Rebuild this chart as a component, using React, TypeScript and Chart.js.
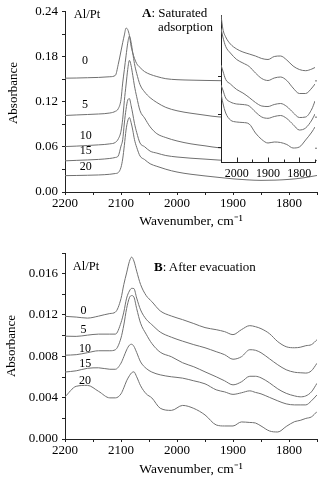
import React, { useEffect, useRef } from "react";
import { Chart, registerables } from "chart.js";

Chart.register(...registerables);

const FONT = "'Liberation Serif', 'Times New Roman', serif";
const LINE = "#707070";
const AXIS = "#222";

// ---------- Panel A: saturated adsorption ----------
const WN_A = [2200, 2180, 2160, 2140, 2120, 2110, 2105, 2100, 2097, 2094, 2091, 2088, 2085, 2082, 2079, 2076, 2072, 2066, 2058, 2048, 2036, 2020, 2000, 1975, 1950, 1925, 1900, 1875, 1850, 1825, 1800, 1775, 1750];
const A_0 = [0.1516, 0.1518, 0.1522, 0.1526, 0.1535, 0.1554, 0.1697, 0.1878, 0.1988, 0.2092, 0.2183, 0.2163, 0.2085, 0.1943, 0.1852, 0.1781, 0.171, 0.1658, 0.1604, 0.1567, 0.1538, 0.1509, 0.1496, 0.149, 0.1486, 0.1483, 0.148, 0.148, 0.148, 0.148, 0.148, 0.148, 0.148];
const A_5 = [0.1019, 0.1026, 0.1032, 0.1039, 0.1052, 0.1075, 0.1108, 0.1231, 0.1451, 0.1632, 0.1813, 0.1982, 0.2076, 0.1995, 0.1852, 0.171, 0.158, 0.1429, 0.1334, 0.1256, 0.1192, 0.1127, 0.1082, 0.1049, 0.1023, 0.1, 0.0997, 0.0997, 0.0997, 0.0997, 0.0997, 0.0997, 0.0997];
const A_10 = [0.0605, 0.0611, 0.0619, 0.0628, 0.0641, 0.0661, 0.0705, 0.081, 0.097, 0.1218, 0.1425, 0.1632, 0.1753, 0.1684, 0.1554, 0.1414, 0.1269, 0.1082, 0.0987, 0.0868, 0.0777, 0.0725, 0.068, 0.0641, 0.0615, 0.0589, 0.0583, 0.0583, 0.0583, 0.0583, 0.0583, 0.0583, 0.0583];
const A_15 = [0.0415, 0.0421, 0.0427, 0.0434, 0.0447, 0.046, 0.0479, 0.0612, 0.0695, 0.0919, 0.1101, 0.1224, 0.1244, 0.1153, 0.104, 0.0915, 0.0794, 0.0652, 0.0604, 0.0544, 0.0518, 0.0486, 0.0466, 0.045, 0.0438, 0.0425, 0.0418, 0.0418, 0.0418, 0.0418, 0.0418, 0.0418, 0.0418];
const A_20 = [0.0218, 0.022, 0.0223, 0.0227, 0.0236, 0.0246, 0.0258, 0.0329, 0.044, 0.0622, 0.0825, 0.0946, 0.0991, 0.0926, 0.0824, 0.07, 0.0596, 0.0479, 0.0433, 0.0376, 0.0342, 0.0303, 0.0266, 0.0236, 0.0214, 0.0194, 0.0175, 0.0162, 0.0155, 0.0158, 0.0168, 0.0188, 0.022];

// ---------- Inset of panel A (magnified, arbitrary units) ----------
const WN_IN = [2050, 2044, 2035, 2020, 2000, 1980, 1960, 1940, 1920, 1900, 1880, 1860, 1840, 1820, 1800, 1780, 1760, 1750];
const IN_0 = [0.145, 0.131, 0.123, 0.116, 0.111, 0.108, 0.106, 0.104, 0.1015, 0.1005, 0.1035, 0.104, 0.1, 0.094, 0.0905, 0.0893, 0.091, 0.0925];
const IN_5 = [0.1317, 0.123, 0.1135, 0.107, 0.1005, 0.097, 0.0935, 0.087, 0.0815, 0.0795, 0.082, 0.083, 0.0795, 0.072, 0.0665, 0.0665, 0.072, 0.076];
const IN_10 = [0.095, 0.089, 0.0805, 0.076, 0.0705, 0.067, 0.0625, 0.0575, 0.054, 0.0535, 0.0555, 0.0565, 0.0535, 0.0475, 0.0425, 0.043, 0.051, 0.059];
const IN_15 = [0.075, 0.07, 0.062, 0.058, 0.056, 0.0555, 0.054, 0.048, 0.043, 0.0417, 0.0435, 0.0445, 0.0415, 0.0355, 0.03, 0.032, 0.04, 0.046];
const IN_20 = [0.0667, 0.057, 0.047, 0.04, 0.038, 0.0375, 0.036, 0.027, 0.0205, 0.017, 0.018, 0.0175, 0.0155, 0.012, 0.013, 0.02, 0.028, 0.033];
const IN_Y_TICKS = [0.013, 0.046, 0.084];

// ---------- Panel B: after evacuation ----------
const WN_B = [2200, 2180, 2160, 2140, 2120, 2110, 2100, 2095, 2090, 2085, 2081, 2077, 2072, 2065, 2055, 2045, 2030, 2010, 1990, 1970, 1950, 1930, 1915, 1900, 1885, 1870, 1860, 1850, 1835, 1820, 1805, 1790, 1780, 1770, 1760, 1750];
const B_0 = [0.01187, 0.0118, 0.0117, 0.01189, 0.01214, 0.01228, 0.01359, 0.01495, 0.01607, 0.01718, 0.0176, 0.01723, 0.01624, 0.01495, 0.01388, 0.0133, 0.0124, 0.0119, 0.01155, 0.01117, 0.01078, 0.01058, 0.01039, 0.0101, 0.01058, 0.01097, 0.01087, 0.01068, 0.0102, 0.00942, 0.00893, 0.00883, 0.00888, 0.00903, 0.00913, 0.00961];
const B_5 = [0.00995, 0.00993, 0.01005, 0.01015, 0.01015, 0.01015, 0.01126, 0.01228, 0.01363, 0.01432, 0.01458, 0.01456, 0.01364, 0.01249, 0.01159, 0.01107, 0.01035, 0.00985, 0.00947, 0.00913, 0.00883, 0.00845, 0.00816, 0.00772, 0.00796, 0.00864, 0.00859, 0.00835, 0.00777, 0.00718, 0.0067, 0.00646, 0.00641, 0.00638, 0.0066, 0.00733];
const B_10 = [0.00811, 0.00816, 0.00835, 0.00854, 0.00854, 0.00864, 0.00978, 0.01103, 0.01262, 0.01367, 0.01388, 0.01374, 0.01262, 0.0112, 0.01014, 0.00925, 0.0084, 0.00796, 0.00738, 0.00699, 0.0065, 0.00602, 0.00563, 0.00524, 0.00553, 0.00607, 0.00607, 0.00592, 0.00544, 0.00485, 0.00442, 0.00417, 0.00408, 0.00417, 0.00456, 0.00539];
const B_15 = [0.00648, 0.0066, 0.00684, 0.00689, 0.00675, 0.00675, 0.00734, 0.00796, 0.00862, 0.00908, 0.00917, 0.00897, 0.00837, 0.00746, 0.00683, 0.00648, 0.00621, 0.00602, 0.00589, 0.00563, 0.00534, 0.00476, 0.00456, 0.00432, 0.00447, 0.00466, 0.00451, 0.00437, 0.00403, 0.00369, 0.0034, 0.0033, 0.0033, 0.0033, 0.00369, 0.00427];
const B_20 = [0.00408, 0.0051, 0.00519, 0.00461, 0.00398, 0.00398, 0.00437, 0.00495, 0.00563, 0.00612, 0.00641, 0.0065, 0.00602, 0.00515, 0.00437, 0.00398, 0.00298, 0.00277, 0.00325, 0.00296, 0.00233, 0.00136, 0.00126, 0.00126, 0.00165, 0.0016, 0.00155, 0.00126, 0.00078, 0.00068, 0.00121, 0.00168, 0.0018, 0.00199, 0.00214, 0.00265];

const AL_PT = ["0", "5", "10", "15", "20"];
const X_TITLE = "Wavenumber, cm\u207B\u00B9";
const Y_TITLE = "Absorbance";

function toPoints(wn: number[], vals: number[]) {
  return wn.map((w, i) => ({ x: w, y: vals[i] }));
}

function makeDatasets(wn: number[], series: number[][]) {
  return series.map((s) => ({
    data: toPoints(wn, s),
    borderColor: LINE,
    borderWidth: 1,
    pointRadius: 0,
    fill: false,
    cubicInterpolationMode: "monotone" as const,
  }));
}

function mainConfig(opts: {
  wn: number[];
  series: number[][];
  yMax: number;
  yStep: number;
  labelEvery: number;
  decimals: number;
  padTop: number;
  xHeight: number;
  xTickPad: number;
  xTitlePad: number;
  showYTitle: boolean;
}): any {
  return {
    type: "line",
    data: { datasets: makeDatasets(opts.wn, opts.series) },
    options: {
      animation: false,
      responsive: false,
      maintainAspectRatio: false,
      events: [],
      layout: { padding: { top: opts.padTop, right: 2, left: 0, bottom: 0 } },
      plugins: { legend: { display: false }, tooltip: { enabled: false } },
      scales: {
        x: {
          type: "linear",
          reverse: true,
          min: 1750,
          max: 2200,
          ticks: {
            stepSize: 50,
            autoSkip: false,
            maxRotation: 0,
            minRotation: 0,
            padding: opts.xTickPad,
            color: "#000",
            font: { family: FONT, size: 13 },
            callback: (v: number) => (Math.round(v) % 100 === 0 ? String(Math.round(v)) : ""),
          },
          grid: { display: true, drawOnChartArea: false, drawTicks: true, tickLength: 3, color: AXIS },
          border: { display: true, color: AXIS, width: 1 },
          title: {
            display: true,
            text: X_TITLE,
            color: "#000",
            font: { family: FONT, size: 13.5 },
            padding: { top: 0, bottom: opts.xTitlePad },
          },
          afterFit: (s: any) => {
            s.height = opts.xHeight;
          },
        },
        y: {
          min: 0,
          max: opts.yMax,
          ticks: {
            stepSize: opts.yStep,
            autoSkip: false,
            padding: 4,
            color: "#000",
            font: { family: FONT, size: 13 },
            callback: (v: number) =>
              Math.round(v / opts.yStep) % opts.labelEvery === 0 ? v.toFixed(opts.decimals) : "",
          },
          grid: { display: true, drawOnChartArea: false, drawTicks: true, tickLength: 3, color: AXIS },
          border: { display: true, color: AXIS, width: 1 },
          title: {
            display: opts.showYTitle,
            text: Y_TITLE,
            color: "#000",
            font: { family: FONT, size: 13 },
            padding: { top: 4, bottom: 0 },
          },
          afterFit: (s: any) => {
            s.width = 65;
          },
        },
      },
    },
  };
}

const insetPlugin = {
  id: "insetDeco",
  beforeDraw(chart: any) {
    const { ctx, chartArea } = chart;
    ctx.save();
    ctx.fillStyle = "#fff";
    ctx.fillRect(chartArea.left, chartArea.top, chartArea.right - chartArea.left, chartArea.bottom - chartArea.top);
    ctx.restore();
  },
  afterDraw(chart: any) {
    const { ctx, chartArea, scales } = chart;
    ctx.save();
    ctx.strokeStyle = AXIS;
    ctx.lineWidth = 1;
    ctx.beginPath();
    for (const t of scales.x.ticks) {
      const px = Math.round(scales.x.getPixelForValue(t.value)) + 0.5;
      const len = Math.round(t.value) % 100 === 0 ? 5 : 3;
      ctx.moveTo(px, chartArea.bottom);
      ctx.lineTo(px, chartArea.bottom - len);
    }
    for (const v of IN_Y_TICKS) {
      const py = Math.round(scales.y.getPixelForValue(v)) + 0.5;
      ctx.moveTo(chartArea.left, py);
      ctx.lineTo(chartArea.left - 3, py);
    }
    ctx.stroke();
    ctx.restore();
  },
};

function insetConfig(): any {
  return {
    type: "line",
    data: { datasets: makeDatasets(WN_IN, [IN_0, IN_5, IN_10, IN_15, IN_20]) },
    options: {
      animation: false,
      responsive: false,
      maintainAspectRatio: false,
      events: [],
      layout: { padding: { top: 7, right: 2, left: 0, bottom: 0 } },
      plugins: { legend: { display: false }, tooltip: { enabled: false } },
      scales: {
        x: {
          type: "linear",
          reverse: true,
          min: 1750,
          max: 2050,
          ticks: {
            stepSize: 50,
            autoSkip: false,
            maxRotation: 0,
            minRotation: 0,
            padding: 4,
            color: "#000",
            font: { family: FONT, size: 12 },
            callback: (v: number) => (Math.round(v) % 100 === 0 ? String(Math.round(v)) : ""),
          },
          grid: { display: false, drawTicks: false },
          border: { display: true, color: AXIS, width: 1 },
          afterFit: (s: any) => {
            s.height = 25.5;
          },
        },
        y: {
          min: -0.0025,
          max: 0.145,
          ticks: { display: false },
          grid: { display: false, drawTicks: false },
          border: { display: true, color: AXIS, width: 1 },
          afterFit: (s: any) => {
            s.width = 31;
          },
        },
      },
    },
    plugins: [insetPlugin],
  };
}

function Txt(props: {
  x: number;
  y: number;
  size?: number;
  anchor?: "center" | "left";
  rotate?: boolean;
  children: React.ReactNode;
}) {
  const { x, y, size = 13, anchor = "center", rotate = false, children } = props;
  let transform = anchor === "center" ? "translate(-50%, -50%)" : "translate(0, -50%)";
  if (rotate) transform += " rotate(-90deg)";
  return (
    <div
      style={{
        position: "absolute",
        left: x,
        top: y,
        transform,
        fontFamily: FONT,
        fontSize: size,
        lineHeight: 1,
        whiteSpace: "nowrap",
        color: "#000",
      }}
    >
      {children}
    </div>
  );
}

export default function App() {
  const aRef = useRef<HTMLCanvasElement | null>(null);
  const inRef = useRef<HTMLCanvasElement | null>(null);
  const bRef = useRef<HTMLCanvasElement | null>(null);

  useEffect(() => {
    const charts: Chart[] = [];
    if (aRef.current) {
      charts.push(
        new Chart(
          aRef.current,
          mainConfig({
            wn: WN_A,
            series: [A_0, A_5, A_10, A_15, A_20],
            yMax: 0.24,
            yStep: 0.03,
            labelEvery: 2,
            decimals: 2,
            padTop: 6,
            xHeight: 48,
            xTickPad: 1,
            xTitlePad: 10,
            showYTitle: false,
          })
        )
      );
    }
    if (inRef.current) {
      charts.push(new Chart(inRef.current, insetConfig()));
    }
    if (bRef.current) {
      charts.push(
        new Chart(
          bRef.current,
          mainConfig({
            wn: WN_B,
            series: [B_0, B_5, B_10, B_15, B_20],
            yMax: 0.018,
            yStep: 0.002,
            labelEvery: 2,
            decimals: 3,
            padTop: 13,
            xHeight: 39,
            xTickPad: 1,
            xTitlePad: 0,
            showYTitle: true,
          })
        )
      );
    }
    return () => {
      charts.forEach((c) => c.destroy());
    };
  }, []);

  const aLabelY = [60.3, 104, 135.3, 150.3, 166.2];
  const aLabelX = [85, 85, 85.8, 85.8, 85.8];
  const bLabelY = [309.7, 328.7, 347.5, 363, 379.7];
  const bLabelX = [83.5, 83.5, 85, 85.3, 85];

  return (
    <div style={{ position: "absolute", left: 0, top: 0, width: 319, height: 478, background: "#fff", overflow: "hidden" }}>
      <canvas ref={aRef} width={319} height={240} style={{ position: "absolute", left: 0, top: 0 }} />
      <canvas ref={inRef} width={129} height={180} style={{ position: "absolute", left: 190, top: 8 }} />
      <canvas ref={bRef} width={319} height={238} style={{ position: "absolute", left: 0, top: 240 }} />

      <Txt x={11.8} y={92.5} rotate>
        {Y_TITLE}
      </Txt>
      <Txt x={87} y={13.5} size={12.5}>Al/Pt</Txt>
      <Txt x={142} y={12} anchor="left">
        <b>A</b>: Saturated
      </Txt>
      <Txt x={158} y={26} anchor="left">adsorption</Txt>
      {AL_PT.map((l, i) => (
        <Txt key={"a" + l} x={aLabelX[i]} y={aLabelY[i]} size={12}>
          {l}
        </Txt>
      ))}

      <Txt x={86} y={266.3} size={12.5}>Al/Pt</Txt>
      <Txt x={154} y={266} anchor="left">
        <b>B</b>: After evacuation
      </Txt>
      {AL_PT.map((l, i) => (
        <Txt key={"b" + l} x={bLabelX[i]} y={bLabelY[i]} size={12}>
          {l}
        </Txt>
      ))}
    </div>
  );
}
